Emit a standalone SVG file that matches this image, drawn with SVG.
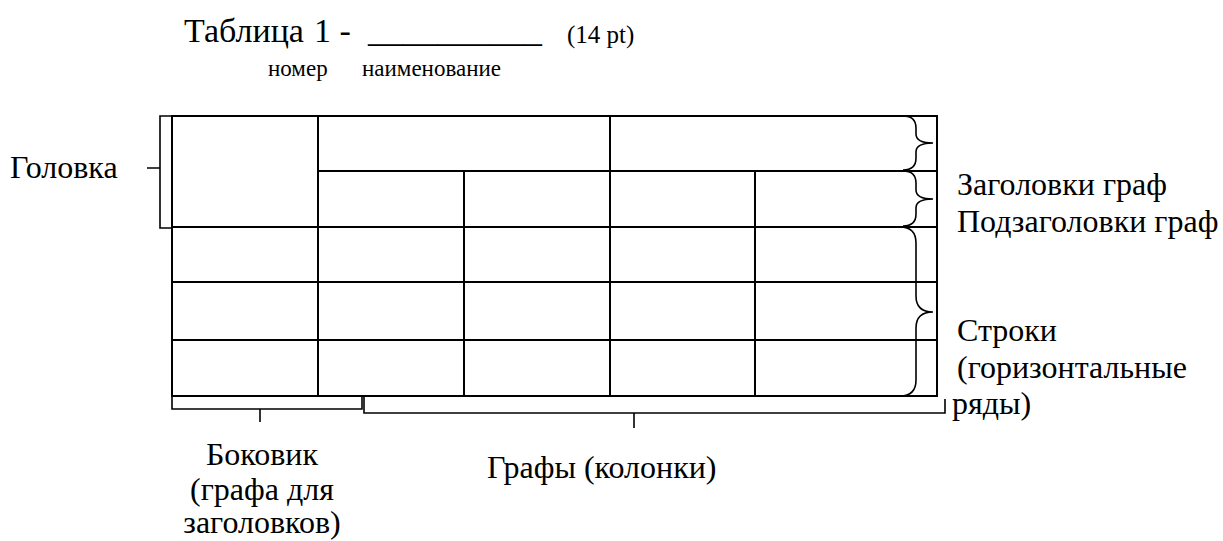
<svg xmlns="http://www.w3.org/2000/svg" width="1223" height="541" viewBox="0 0 1223 541">
<style>
text{font-family:"Liberation Serif","Times New Roman",serif;fill:#000}
.t{font-size:32px}
.ttl{font-size:34px}
.sm{font-size:23px}
.pt{font-size:25px}
.grid{stroke:#000;stroke-width:2;fill:none}
.br{stroke:#000;stroke-width:1.6;fill:none}
</style>
<rect width="1223" height="541" fill="#fff"/>
<g id="title">
<text class="ttl" x="184" y="42">Таблица</text>
<text class="ttl" x="314" y="42">1 -</text>
<text class="ttl" x="368" y="42" textLength="174" lengthAdjust="spacingAndGlyphs">__________</text>
<text class="pt" x="567" y="43">(14 pt)</text>
<text class="sm" x="268" y="76">номер</text>
<text class="sm" x="362" y="76">наименование</text>
</g>
<g id="table">
<rect class="grid" x="172" y="116" width="765" height="280"/>
<line class="grid" x1="318" y1="116" x2="318" y2="396"/>
<line class="grid" x1="610" y1="116" x2="610" y2="396"/>
<line class="grid" x1="464" y1="171" x2="464" y2="396"/>
<line class="grid" x1="755" y1="171" x2="755" y2="396"/>
<line class="grid" x1="318" y1="171" x2="937" y2="171"/>
<line class="grid" x1="172" y1="227" x2="937" y2="227"/>
<line class="grid" x1="172" y1="282" x2="937" y2="282"/>
<line class="grid" x1="172" y1="340" x2="937" y2="340"/>
</g>
<g id="connectors">
<path class="br" d="M171,116 H160 V228 H171 M147,168 H160"/>
<path class="br" d="M903,116 Q916,116 916,128 V134 Q916,143 933,143 Q916,143 916,152 V158 Q916,170 903,170"/>
<path class="br" d="M903,171 Q916,171 916,183 V190 Q916,199 933,199 Q916,199 916,208 V214 Q916,226 903,226"/>
<path class="br" d="M900,227 Q916,227 916,243 V296 Q916,312 933,312 Q916,312 916,328 V380 Q916,396 900,396"/>
<path class="br" d="M172,397 V409 H362 V397 M260,409 V422"/>
<path class="br" d="M364,397 V413 H945 V399 M634,413 V428"/>
</g>
<g id="labels">
<text class="t" x="10" y="178">Головка</text>
<text class="t" x="957" y="195">Заголовки граф</text>
<text class="t" x="957" y="232">Подзаголовки граф</text>
<text class="t" x="957" y="341">Строки</text>
<text class="t" x="957" y="378">(горизонтальные</text>
<text class="t" x="952" y="414">ряды)</text>
<text class="t" x="262" y="465" text-anchor="middle">Боковик</text>
<text class="t" x="262" y="500" text-anchor="middle">(графа для</text>
<text class="t" x="262" y="533" text-anchor="middle">заголовков)</text>
<text class="t" x="487" y="478">Графы (колонки)</text>
</g>
</svg>
